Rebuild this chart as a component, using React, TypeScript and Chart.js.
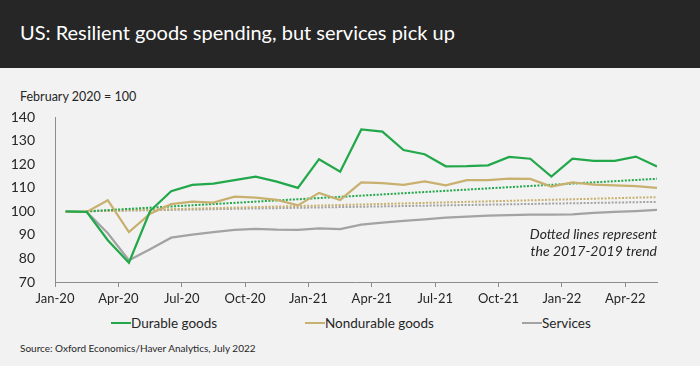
import React, { useEffect, useRef } from "react";
import { Chart, registerables } from "chart.js";

Chart.register(...registerables);

const months = [
  "Jan-20", "Feb-20", "Mar-20", "Apr-20", "May-20", "Jun-20", "Jul-20", "Aug-20", "Sep-20", "Oct-20", "Nov-20", "Dec-20",
  "Jan-21", "Feb-21", "Mar-21", "Apr-21", "May-21", "Jun-21", "Jul-21", "Aug-21", "Sep-21", "Oct-21", "Nov-21", "Dec-21",
  "Jan-22", "Feb-22", "Mar-22", "Apr-22", "May-22",
];
const tickLabels = ["Jan-20", "Apr-20", "Jul-20", "Oct-20", "Jan-21", "Apr-21", "Jul-21", "Oct-21", "Jan-22", "Apr-22"];

const durable = [100, 99.8, 87.7, 78.2, 100.1, 108.5, 111.2, 111.7, 113.2, 114.7, 112.6, 109.9, 122.1, 116.8, 134.7, 133.8, 126, 124.2, 119.1, 119.2, 119.5, 123.1, 122.3, 114.7, 122.3, 121.4, 121.4, 123.2, 119];
const nondurable = [99.7, 99.7, 104.7, 91.2, 99, 103, 104.1, 103.7, 106.2, 105.8, 104.8, 102.5, 107.8, 104.8, 112.3, 111.9, 111.2, 112.7, 111, 113.2, 113.2, 113.9, 113.7, 110.5, 112.3, 111.3, 111, 110.7, 109.9];
const services = [99.7, 99.7, 90.7, 79.2, 83.9, 88.8, 90.1, 91.2, 92.1, 92.5, 92.2, 92.1, 92.8, 92.4, 94.3, 95.2, 95.9, 96.6, 97.3, 97.7, 98.2, 98.4, 98.6, 98.6, 98.7, 99.3, 99.7, 100.1, 100.6];

// Trend lines (2017-2019 trend): start and end months and values
const trendMonths = ["Feb-20", "May-22"];
const durableTrend = [100, 113.8];
const nondurableTrend = [100, 106];
const servicesTrend = [100, 104];

const GREEN = "#22a84a";
const TAN = "#c8b06f";
const GRAY = "#a3a3a3";
const FONT = "Lato, 'Open Sans', sans-serif";
const TEXT = "#262626";

const toPoints = (vals: number[]) => vals.map((v, i) => ({ x: i, y: v }));
const toTrend = (vals: number[]) => vals.map((v, i) => ({ x: months.indexOf(trendMonths[i]), y: v }));

export default function App() {
  const ref = useRef<HTMLCanvasElement | null>(null);

  useEffect(() => {
    if (!ref.current) return;
    const chart = new Chart(ref.current, {
      type: "line",
      data: {
        datasets: [
          { label: "Durable goods", data: toPoints(durable), borderColor: GREEN, borderWidth: 2.25, pointRadius: 0, tension: 0, order: 1 },
          { label: "Nondurable goods", data: toPoints(nondurable), borderColor: TAN, borderWidth: 2.25, pointRadius: 0, tension: 0, order: 2 },
          { label: "Services", data: toPoints(services), borderColor: GRAY, borderWidth: 2.25, pointRadius: 0, tension: 0, order: 3 },
          { label: "Durable trend", data: toTrend(durableTrend), borderColor: GREEN, borderWidth: 2, borderDash: [2, 1.5], pointRadius: 0, order: 4 },
          { label: "Nondurable trend", data: toTrend(nondurableTrend), borderColor: TAN, borderWidth: 2, borderDash: [2, 1.5], pointRadius: 0, order: 5 },
          { label: "Services trend", data: toTrend(servicesTrend), borderColor: GRAY, borderWidth: 2, borderDash: [2, 1.5], pointRadius: 0, order: 6 },
        ],
      },
      options: {
        animation: false,
        responsive: false,
        maintainAspectRatio: false,
        layout: { padding: { top: 49, right: 43, left: 0, bottom: 0 } },
        plugins: { legend: { display: false }, tooltip: { enabled: false } },
        scales: {
          x: {
            type: "linear",
            min: -0.5,
            max: months.length - 1,
            afterBuildTicks: (axis: any) => {
              axis.ticks = tickLabels.map((_, k) => ({ value: -0.5 + 3 * k }));
            },
            afterFit: (axis: any) => { axis.height = 28; },
            grid: { display: true, drawOnChartArea: false, drawTicks: true, tickLength: 5, color: "#8c8c8c" },
            border: { display: true, color: "#8c8c8c", width: 1 },
            ticks: {
              autoSkip: false,
              maxRotation: 0,
              padding: 4,
              color: TEXT,
              font: { family: FONT, size: 13 },
              callback: (_v: any, i: number) => tickLabels[i],
            },
          },
          y: {
            min: 70,
            max: 140,
            afterFit: (axis: any) => { axis.width = 55; },
            grid: { display: false },
            border: { display: true, color: "#8c8c8c", width: 1 },
            ticks: { stepSize: 10, padding: 12, color: TEXT, font: { family: FONT, size: 14 } },
          },
        },
      },
    });
    return () => chart.destroy();
  }, []);

  const legendItem = (color: string, label: string, left: number) => (
    <div style={{ position: "absolute", left, top: 314, display: "flex", alignItems: "center", height: 18 }}>
      <div style={{ width: 20, height: 2, background: color }} />
      <span style={{ fontSize: 13.5, color: TEXT, fontFamily: FONT }}>{label}</span>
    </div>
  );

  return (
    <div style={{ position: "fixed", left: 0, top: 0, width: 700, height: 366, background: "#f2f2f2", overflow: "hidden", fontFamily: FONT }}>
      <div style={{ position: "absolute", left: 0, top: 0, width: 700, height: 68, background: "#262626" }}>
        <div style={{ position: "absolute", left: 20, top: 20, color: "#ffffff", fontSize: 20, whiteSpace: "nowrap" }}>
          US: Resilient goods spending, but services pick up
        </div>
      </div>
      <div style={{ position: "absolute", left: 20, top: 89, fontSize: 12.5, color: TEXT, whiteSpace: "nowrap" }}>February 2020 = 100</div>
      <canvas ref={ref} width={700} height={242} style={{ position: "absolute", left: 0, top: 68, width: 700, height: 242 }} />
      <div style={{ position: "absolute", right: 43, top: 225, fontSize: 14, fontStyle: "italic", color: TEXT, textAlign: "right", lineHeight: "17px", whiteSpace: "nowrap" }}>
        Dotted lines represent<br />the 2017-2019 trend
      </div>
      {legendItem(GREEN, "Durable goods", 111)}
      {legendItem(TAN, "Nondurable goods", 305)}
      {legendItem(GRAY, "Services", 522)}
      <div style={{ position: "absolute", left: 20, top: 342, fontSize: 10, color: TEXT, whiteSpace: "nowrap" }}>
        Source: Oxford Economics/Haver Analytics, July 2022
      </div>
    </div>
  );
}
